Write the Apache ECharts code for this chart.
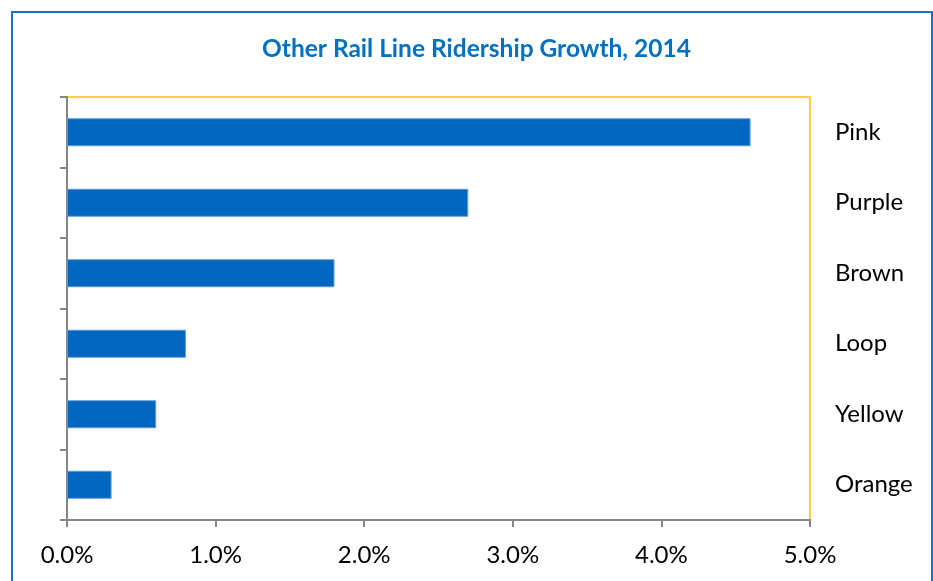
<!DOCTYPE html>
<html>
<head>
<meta charset="utf-8">
<script src="https://cdn.jsdelivr.net/npm/echarts@6/dist/echarts.min.js"></script>
<style>
  html, body { margin: 0; padding: 0; background: #ffffff; }
  #chart { width: 933px; height: 581px; }
</style>
</head>
<body>
<div id="chart"></div>
<script>
// Rail lines, top to bottom
const lines = ['Pink', 'Purple', 'Brown', 'Loop', 'Yellow', 'Orange'];
// Ridership growth in 2014, percent
const growth = [4.6, 2.7, 1.8, 0.8, 0.6, 0.3];
// Value axis ticks, percent
const xTicks = [0, 1, 2, 3, 4, 5];

const FONT = 'Lato, "Open Sans", sans-serif';
const chart = echarts.init(document.getElementById('chart'), null, { renderer: 'canvas' });

chart.setOption({
  animation: false,
  backgroundColor: '#ffffff',
  title: {
    text: 'Other Rail Line Ridership Growth, 2014',
    left: 257,
    top: 32,
    textStyle: { color: '#0070C0', fontFamily: FONT, fontWeight: 'bold', fontSize: 24.5 }
  },
  graphic: [{
    type: 'rect',
    shape: { x: 12, y: 12, width: 920, height: 600 },
    style: { fill: 'none', stroke: '#1F70C8', lineWidth: 2 },
    silent: true
  }],
  grid: {
    left: 67, right: 123, top: 97, bottom: 61,
    show: true, borderColor: '#FFC000', borderWidth: 1.5, backgroundColor: 'transparent'
  },
  xAxis: {
    type: 'value',
    min: xTicks[0],
    max: xTicks[xTicks.length - 1],
    interval: 1,
    axisLine: { show: true, lineStyle: { color: '#868686', width: 2 } },
    axisTick: { show: true, inside: false, length: 7, lineStyle: { color: '#868686', width: 2 } },
    splitLine: { show: false },
    axisLabel: {
      margin: 23,
      color: '#000000', fontFamily: FONT, fontSize: 24,
      formatter: v => v.toFixed(1) + '%'
    }
  },
  yAxis: [{
    type: 'category',
    data: lines,
    inverse: true,
    position: 'left',
    axisLine: { show: true, lineStyle: { color: '#868686', width: 2 } },
    axisTick: { show: true, length: 7, alignWithLabel: false, lineStyle: { color: '#868686', width: 2 } },
    axisLabel: { show: false },
    splitLine: { show: false }
  }, {
    type: 'category',
    data: lines,
    inverse: true,
    position: 'right',
    axisLine: { show: false },
    axisTick: { show: false },
    axisLabel: {
      margin: 25,
      align: 'left',
      color: '#000000', fontFamily: FONT, fontSize: 24
    },
    splitLine: { show: false }
  }],
  series: [{
    type: 'bar',
    yAxisIndex: 0,
    data: growth,
    barWidth: 28,
    itemStyle: { color: '#0066BF', borderColor: '#5B9BD5', borderWidth: 1 }
  }]
});
</script>
</body>
</html>
